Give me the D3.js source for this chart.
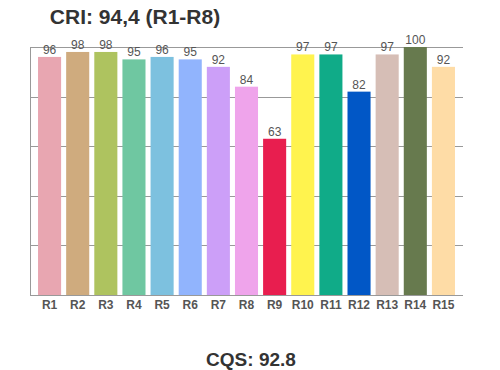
<!DOCTYPE html>
<html>
<head>
<meta charset="utf-8">
<script src="https://cdn.jsdelivr.net/npm/d3@7"></script>
<style>
  body { margin: 0; background: #fff; }
  text { font-family: "Liberation Sans", Arial, sans-serif; }
</style>
</head>
<body>
<svg id="chart" width="500" height="370"></svg>
<script>
// chart data
var categories = ["R1","R2","R3","R4","R5","R6","R7","R8","R9","R10","R11","R12","R13","R14","R15"];
var values = [96, 98, 98, 95, 96, 95, 92, 84, 63, 97, 97, 82, 97, 100, 92];
var colors = ["#e8a6b1","#cfab7e","#aec35f","#6fc7a1","#7dc1df","#91b4fd","#cc9ff8","#efa4eb",
              "#e81e4f","#fff34e","#10ab88","#0157c6","#d6beb6","#677a4e","#fedca6"];
var yTicks = [0, 20, 40, 60, 80, 100];
var title = "CRI: 94,4 (R1-R8)";
var subtitle = "CQS: 92.8";

var svg = d3.select("#chart");

// plot box (don't call these top/left: window.top is taken)
var plotL = 30, plotR = 463, plotT = 47, plotB = 295;

var x = d3.scaleBand()
  .domain(categories)
  .range([35.5, 457.5])
  .paddingInner(0.18)
  .paddingOuter(0.09);

var y = d3.scaleLinear()
  .domain([0, 100])
  .range([plotB, plotT]);

// gridlines
svg.append("g").selectAll("line")
  .data(yTicks.filter(function(d) { return d > 0; }))
  .enter().append("line")
    .attr("x1", plotL).attr("x2", plotR)
    .attr("y1", function(d) { return Math.round(y(d)) + 0.5; })
    .attr("y2", function(d) { return Math.round(y(d)) + 0.5; })
    .attr("stroke", "#999")
    .attr("stroke-width", 1);

// bars
svg.append("g").selectAll("rect")
  .data(values)
  .enter().append("rect")
    .attr("x", function(d, i) { return x(categories[i]); })
    .attr("y", function(d) { return y(d); })
    .attr("width", x.bandwidth())
    .attr("height", function(d) { return y(0) - y(d); })
    .attr("fill", function(d, i) { return colors[i]; });

// value labels
svg.append("g").selectAll("text")
  .data(values)
  .enter().append("text")
    .attr("x", function(d, i) { return x(categories[i]) + x.bandwidth() / 2; })
    .attr("y", function(d) { return y(d) - 3; })
    .attr("text-anchor", "middle")
    .attr("font-size", 12)
    .attr("fill", "#555")
    .text(function(d) { return d; });

// axes lines
svg.append("line")
  .attr("x1", plotL + 0.5).attr("x2", plotL + 0.5)
  .attr("y1", plotT).attr("y2", plotB)
  .attr("stroke", "#999");
svg.append("line")
  .attr("x1", plotL).attr("x2", plotR)
  .attr("y1", plotB + 0.5).attr("y2", plotB + 0.5)
  .attr("stroke", "#999");

// category labels
svg.append("g").selectAll("text")
  .data(categories)
  .enter().append("text")
    .attr("x", function(d) { return x(d) + x.bandwidth() / 2; })
    .attr("y", plotB + 14)
    .attr("text-anchor", "middle")
    .attr("font-size", 12)
    .attr("font-weight", "bold")
    .attr("fill", "#555")
    .text(function(d) { return d; });

// titles
svg.append("text")
  .attr("x", 135).attr("y", 24)
  .attr("text-anchor", "middle")
  .attr("font-size", 21)
  .attr("font-weight", "bold")
  .attr("fill", "#333")
  .text(title);

// sits right at the bottom edge, nudged up so it isn't clipped
svg.append("text")
  .attr("x", 251).attr("y", 366)
  .attr("text-anchor", "middle")
  .attr("font-size", 19)
  .attr("font-weight", "bold")
  .attr("fill", "#333")
  .text(subtitle);
</script>
</body>
</html>
